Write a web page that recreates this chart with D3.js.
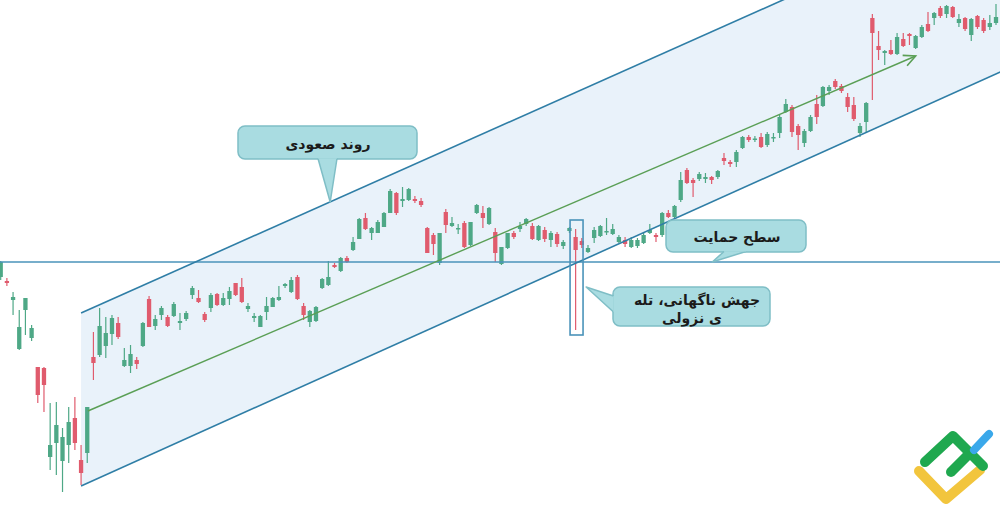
<!DOCTYPE html>
<html><head><meta charset="utf-8">
<script src="https://cdn.jsdelivr.net/npm/d3@7"></script>
<style>html,body{margin:0;padding:0;background:#fff;overflow:hidden}</style>
</head><body><svg id="c" width="1000" height="519"></svg>
<script>
// ---- data (price units), one entry per candle ----
const openP  = [243,239,220,171,210,182,153,152,63,77,59,75,102,60,67,163,165,174,186,197,154,154,160,174,221,194,205,203,204,197,201,225,222,206,212,226,215,221,237,233,211,202,193,208,213,220,234,228,243,214,198,199,232,235,255,249,262,270,281,302,287,287,293,307,327,319,320,321,319,292,285,257,308,294,291,297,275,307,307,296,288,256,272,287,291,296,294,280,290,280,286,274,289,283,279,268,282,284,288,286,278,280,273,274,277,287,285,285,307,303,320,350,340,341,341,343,343,362,358,358,372,383,380.5,383,375,382,387,408,413,394,377,389,416,414,429,439,434,423,415,387,398,502,474,467,470,466,481,486,472,483,496,502,512,506,513,497,502,485,504,500,493,497];
const highP  = [259,242,228,210,222,195,153,153,117,118,92,113,123,75,113,188,212,203,205,203,172,175,163,198,224,205,214,205,218,207,209,234,230,208,227,227,227,233,237,242,217,207,205,223,223,234,237,243,245,217,210,214,242,259,257,263,264,283,302,307,293,300,308,331,328,333,332,324,322,293,287,287,311,303,296,299,298,316,314,313,292,273,287,289,298,302,297,295,293,289,288,280,293,291,282,275,293,295,302,296,285,283,283,282,287,296,287,308,310,315,348,352,342,348,347,344,350,367,360,370,384,385,384,387,388,387,405,421,415,396,391,405,425,434,435,441,436,427,423,397,418,506,489,470,480,487,487,487,485,495,508,508,514,515,514,506,503,502,505,502,505,516];
const lowP   = [240,234,205,170,185,179,117,108,50,45,28,57,70,35,57,140,163,162,175,181,153,147,151,173,193,190,200,193,203,190,199,221,217,198,208,214,214,215,224,217,208,198,193,200,213,219,232,227,220,200,193,198,231,234,252,248,257,269,281,290,280,287,293,307,305,313,319,317,313,267,265,255,287,293,286,272,274,306,292,295,258,255,271,281,288,294,280,279,278,273,273,271,287,190,272,267,277,283,285,285,277,273,272,272,276,286,278,283,302,302,318,336,323,339,337,336,341,355,353,353,371,378,378,372,373,378,382,407,383,370,373,388,396,413,425,431,427,408,399,383,388,420,460,455,465,465,473,475,471,482,488,495,502,502,502,493,489,479,491,487,490,495];
const closeP = [258,237,223,193,222,192,125,135,75,95,83,98,77,47,113,157,194,187,202,183,160,166,156,197,193,201,212,194,216,199,207,232,218,200,225,215,222,229,225,218,214,204,204,214,222,223,236,240,221,205,209,213,241,243,253,262,258,278,301,291,292,298,307,329,307,321,331,319,315,267,276,287,295,297,292,273,298,315,302,312,267,273,287,283,294,301,281,294,281,287,276,278,292,270,275,272,290,294,289,291,283,276,280,280,285,290,283,307,303,314,340,337,337,346,343,340,349,359,356,368,383,380,381.5,373,386,383,403,416,388,385,389,403,403,433,433,433,429,413,401,394,417,487,470,469,466,483,474,484,484,493,489,507,504,514,503,501,491,501,493,489,497,503];

// channel & trend lines: [candle index, price]
const upperLine   = [[13.0, 207], [161.7, 617]];
const lowerLine   = [[13.0, 34],  [161.7, 448]];
const trendLine   = [[14.1, 109], [148.0, 464]];
const supportLevel = 258;
const spikeBox    = [[92.1, 300], [94.2, 185]];

// annotation texts and the chart points their pointers reference: [candle index, price]
const labels = ["روند صعودی", "سطح حمایت", "جهش ناگهانی، تله", "ی نزولی"];
const pointerTips = [[53.3, 318], [115.1, 258], [94.7, 233]];

const W = 1000, H = 519;
const svg = d3.select("#c");
const x = d3.scaleLinear().domain([0, openP.length - 1]).range([0.7, 996]);
const y = d3.scaleLinear().domain([0, 520]).range([520, 0]);

const candles = openP.map((o, i) => ({i, o, h: highP[i], l: lowP[i], c: closeP[i]}));
const GREEN = "#4ea886", RED = "#e05b6d";
const CH = "#2f7ea6", SUP = "#4a93ba";

// channel fill
const line = d3.line().x(d => x(d[0])).y(d => y(d[1]));
svg.append("path")
  .attr("d", line([upperLine[0], upperLine[1], lowerLine[1], lowerLine[0]]) + "Z")
  .attr("fill", "#e9f2fa");

// candles
const g = svg.append("g");
const bw = 4.3;
g.selectAll("line.w").data(candles).join("line")
  .attr("x1", d => x(d.i)).attr("x2", d => x(d.i))
  .attr("y1", d => y(d.h)).attr("y2", d => y(d.l))
  .attr("stroke", d => d.c >= d.o ? GREEN : RED).attr("stroke-width", 1.2);
g.selectAll("rect.b").data(candles).join("rect")
  .attr("x", d => x(d.i) - bw/2).attr("width", bw)
  .attr("y", d => y(Math.max(d.o, d.c)))
  .attr("height", d => Math.max(1.5, Math.abs(y(d.o) - y(d.c))))
  .attr("fill", d => d.c >= d.o ? GREEN : RED);

// support line
svg.append("line").attr("x1", 0).attr("x2", W)
  .attr("y1", y(supportLevel)).attr("y2", y(supportLevel))
  .attr("stroke", SUP).attr("stroke-width", 1.6);

// channel lines
svg.append("path").attr("d", line(upperLine)).attr("stroke", CH).attr("stroke-width", 1.6).attr("fill", "none");
svg.append("path").attr("d", line(lowerLine)).attr("stroke", CH).attr("stroke-width", 1.6).attr("fill", "none");

// trend arrow
const tg = "#5a9f55";
svg.append("path").attr("d", line(trendLine)).attr("stroke", tg).attr("stroke-width", 1.4).attr("fill", "none");
{
  const x1 = x(trendLine[0][0]), y1 = y(trendLine[0][1]);
  const x2 = x(trendLine[1][0]), y2 = y(trendLine[1][1]);
  const a = Math.atan2(y2 - y1, x2 - x1), L = 13, s = 0.45;
  const p1 = [x2 - L*Math.cos(a - s), y2 - L*Math.sin(a - s)];
  const p2 = [x2 - L*Math.cos(a + s), y2 - L*Math.sin(a + s)];
  svg.append("path").attr("d", `M${p1}L${x2},${y2}L${p2}`)
    .attr("stroke", tg).attr("stroke-width", 1.6).attr("fill", "none");
}

// spike highlight box
svg.append("rect")
  .attr("x", x(spikeBox[0][0])).attr("y", y(spikeBox[0][1]))
  .attr("width", x(spikeBox[1][0]) - x(spikeBox[0][0]))
  .attr("height", y(spikeBox[1][1]) - y(spikeBox[0][1]))
  .attr("fill", "none").attr("stroke", SUP).attr("stroke-width", 1.6);

// callouts
const CF = "#a9dce1", CS = "#7fbec6";
function callout(bx, by, bw, bh, b1, tip, b2, inward) {
  svg.append("rect").attr("x", bx).attr("y", by).attr("width", bw).attr("height", bh)
    .attr("rx", 7).attr("fill", CF).attr("stroke", CS).attr("stroke-width", 1.5);
  svg.append("path").attr("d", `M${b1}L${tip}L${b2}`)
    .attr("fill", CF).attr("stroke", CS).attr("stroke-width", 1.5).attr("stroke-linejoin", "round");
  const c1 = [b1[0] + inward[0], b1[1] + inward[1]], c2 = [b2[0] + inward[0], b2[1] + inward[1]];
  svg.append("path").attr("d", `M${b1}L${c1}L${c2}L${b2}Z`).attr("fill", CF);
}
function text(tx, ty, s) {
  svg.append("text").attr("x", tx).attr("y", ty).attr("text-anchor", "middle")
    .attr("dominant-baseline", "central").attr("direction", "rtl")
    .attr("font-family", "DejaVu Sans, sans-serif").attr("font-weight", "bold")
    .attr("font-size", 14).attr("fill", "#1b1b1b").text(s);
}
const tip = i => [x(pointerTips[i][0]), y(pointerTips[i][1])];
// 1: uptrend
callout(238, 126, 179, 33, [318, 158.5], tip(0), [337, 158.5], [0, -3]);
text(328, 144, labels[0]);
// 2: support
callout(666, 220, 140, 32, [724, 251.5], tip(1), [746, 251.5], [0, -3]);
text(737, 237, labels[1]);
// 3: spike trap
callout(613, 287, 157, 39, [613.5, 296], tip(2), [613.5, 312], [3, 0]);
text(697, 300, labels[2]);
text(692, 318, labels[3]);

// logo
const lg = svg.append("g").attr("fill", "none").attr("stroke-linecap", "round").attr("stroke-linejoin", "round");
lg.append("path").attr("d", "M919,471 L946,499 L980,470").attr("stroke", "#f2c53d").attr("stroke-width", 10);
lg.append("path").attr("d", "M925,462 L953,436 L983,466").attr("stroke", "#1fa84f").attr("stroke-width", 10);
lg.append("path").attr("d", "M951,472 L967,456").attr("stroke", "#1fa84f").attr("stroke-width", 10);
lg.append("path").attr("d", "M974,450 L989,434").attr("stroke", "#3aa8ea").attr("stroke-width", 8);
</script></body></html>
